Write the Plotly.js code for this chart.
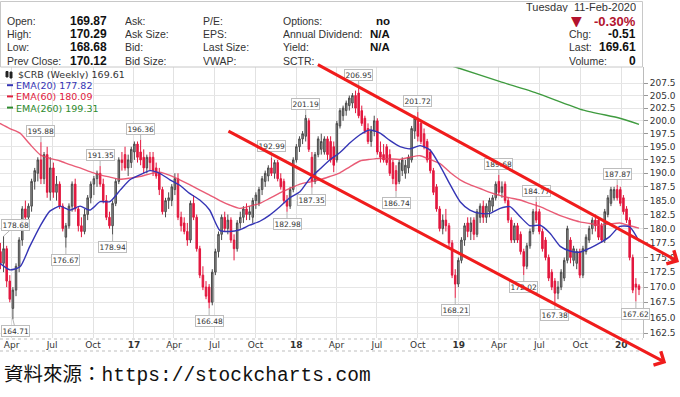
<!DOCTYPE html>
<html><head><meta charset="utf-8">
<script src="https://cdn.plot.ly/plotly-3.0.1.min.js"></script>
<style>html,body{margin:0;padding:0;background:#fff;}#chart{width:680px;height:397px;}</style>
</head><body><div id="chart"></div>
<script>
// ---------- data ----------
const firstWeek = '2016-03-07';
const opens = [
176,174,176.5,171,166.5,169.5,173.5,178,183.5,182,
184,188.5,190,192.5,189,193.5,186.5,191,186.5,188,
184,178.5,180.5,184,188,183.5,180.5,179.5,182.5,185.5,
188,189,190,188,185,182,180.5,184.5,188.5,192.5,
193.5,191,192,194,195.5,194,193,191,193,193,
191,190,187,183,185,185,187,189,182,181,
179.5,178,184.5,182,176.5,172,170,170,167.5,172.5,
176,179,182,180,181.5,178,176.5,181,182,183.5,
182.5,182,185,184.5,187,188.5,189.5,191,190,192,
189,188.5,185,184,187,192.5,195,196.5,197,200,
193,188.5,193.5,194.5,194,196.5,196,195,192.5,199,
201,202,203,203.5,205,205.5,202,200.5,198.5,196,
198,200,194,193.5,195,193.5,192,190.5,188.5,190.5,
190,191,192.5,198,200.5,199.5,197.5,196,194,190.5,
187.5,183.5,180,181.5,180.5,177.5,172,170.5,174.5,178,
181,179.5,181.5,179,182,184,182,183,184,185.5,
188.5,186.5,188,185,181.5,178,180.5,179,176,173.5,
177,179.5,183,183,179.5,178,175,172.5,171,169,
170,171.5,174.5,178,174.5,174,176,172,176,178,
180,181.5,181.5,180.5,178,182.5,184.5,185.5,187,187,
185.5,183.5,181.5,175,170.5,170.2];
const highs = [
177.5,178.68,177,172,170,174,178.5,184,185,184.5,
189,191,193,195.88,194,195,193,192,189.5,188.5,
184.5,181,184.5,188.5,189,184,182,183.5,186,188.5,
189.5,190.5,191.35,189,186,183,185,189,193,194,
195,193.5,195,196,196,196.36,194.5,193.5,194,194,
192,191,187.5,185.5,186.5,188,190,190,183,182,
181,185,186,182.5,177,173.5,171,170.5,173,176.5,
179.5,182.5,183,182.5,182,179,181.5,183,184,184.5,
184,185.5,186.5,187.5,189.5,190.5,191.5,192.99,192.5,192.5,
190,189,186,187.5,193,195.5,197,198,201.19,200.5,
194,194,197,197.5,197,197,197,196,200,202.5,
203,204,205,205.5,206,206.95,203,201,199.5,199,
201,200.5,196,195.5,195.5,194.5,192.5,191.5,192.5,193,
192.5,193.5,199,201,201.72,200,198.5,196.5,194.5,191,
188,184,182.5,183.5,181,178,173,175,178.5,181,
182,182,182,183.5,184.5,185,184.5,185.5,186,188.5,
189.68,188.5,188.5,185.5,182,181,181,179.5,176.5,177.5,
180,183.5,184.77,183.5,180,178.5,175.5,173,171.5,171,
173,175,180.5,178.5,177,176.5,176.5,177,179,180.5,
182,182.5,182,181,183.5,186,187.5,187.5,187.87,187.5,
186,184,182,175.5,171.5,170.5];
const lows = [
173,172.5,170,167.5,164.71,168.5,172.5,177,181,180.5,
183,187,188.5,188,188,185.5,185,185.5,185,183.5,
179.5,176.67,180,183,183,179.5,178.5,179,181.5,184.5,
186,187.5,187.5,184.5,181.5,180,178.94,184,188,190.5,
190.5,189.5,191,192.5,192,191.5,190,190,190.5,189.5,
189,186,182.5,182,183.5,184,186,181.5,179.5,179,
177,177.5,181.5,176,171.5,169.5,168,166.48,167,172,
175,178,179.5,179,177.5,174.5,176,180,181,181.5,
181.5,181,183.5,184,186,187.5,188.5,189.5,189,188.5,
187,184.5,182.98,183.5,186.5,192,194,195.5,196,194,
187.35,188,193,193.5,193.5,192.5,192,190.2,192,198.5,
200,201,202,202.5,201.5,200.5,199,197.5,195.5,195,
197,193.5,192,192,191.5,189.5,188,186.74,188,189.5,
189,190,192,196.5,196,195.5,194.5,192,190,186,
183,179.5,179,179.5,176.5,171.5,168.21,170,174,177,
178.5,178,178,178.5,181,181,181,182,183,185,
186,185.5,184.5,181,177.5,177.5,177.5,175.5,172.02,173,
176.5,179,181,179,176,174.5,171,169.5,167.38,168,
169.5,171,174,174,173.5,173,171.5,171.5,175.5,177.5,
179,179.5,178,177.5,177.5,182,184,185,185,184,
182.5,181,174.5,169,167.62,168.68];
const closes = [
174,176.5,171,168,169.5,173.5,178,183.5,182,184,
188.5,190.5,192.5,189,193.5,186.5,191,186.5,188,184,
180,180.5,184,188,183.5,180.5,179.5,182.5,185.5,188,
189,190,188,185,182,180.5,184.5,188.5,192.5,192,
191,192.5,194.5,195.5,193,192.5,191,193,192,190.5,
189.5,187,183,185,185.5,187.5,189,182,180.5,179.5,
178,184.5,182,176.5,172,170,168.5,167.5,172.5,176,
179,182,180,181.5,178,176.5,181,182,183.5,182.5,
183,185,186,187,189,190,191,190,192,189,
187.5,185,184,187,192.5,195,196.5,197.5,200.5,194.5,
188.5,193.5,196.5,196,196.5,193.5,192.5,191.5,199.5,202,
202.5,203.5,204.5,205,202.5,201,199.5,198,196,198,
200,194,193,192.5,192,190,189,188,192,192.5,
191.5,193,198.5,200.5,197,196,195,192.5,190.5,186.5,
183.5,180,181.5,180.5,177.5,172,170.5,174.5,178,180.5,
179.5,181,179,183,184,182,184,185,185.5,188,
186.5,187.5,185,181.5,178,180.5,178,176,173.5,177,
179.5,183,181.5,179.5,176.5,175,171.5,170,169,170,
172.5,174.5,180,175,176.5,176,172,176.5,178.5,180,
181.5,180.5,178.5,178,183,185.5,187,187,185.5,184.5,
183,181.5,175,169.5,170,169.61];

const emaDates = ['2016-03-06','2016-03-28','2016-04-20','2016-05-12','2016-06-04','2016-06-26','2016-07-19','2016-08-10','2016-09-02','2016-09-24',
'2016-10-17','2016-11-08','2016-12-01','2016-12-23','2017-01-14','2017-02-06','2017-02-28','2017-03-23','2017-04-14','2017-05-06',
'2017-05-29','2017-06-20','2017-07-13','2017-08-04','2017-08-27','2017-09-18','2017-10-11','2017-11-02','2017-11-25','2017-12-17',
'2018-01-09','2018-01-31','2018-02-23','2018-03-17','2018-04-09','2018-05-01','2018-05-24','2018-06-15','2018-07-08','2018-07-30',
'2018-08-22','2018-09-13','2018-10-06','2018-10-28','2018-11-20','2018-12-12','2019-01-04','2019-01-26','2019-02-18','2019-03-12',
'2019-04-04','2019-04-26','2019-05-19','2019-06-10','2019-07-03','2019-07-25','2019-08-17','2019-09-08','2019-09-30','2019-10-23',
'2019-11-14','2019-12-06','2019-12-29','2020-01-20','2020-02-10'];
const ema20 = [174.0,172.9,173.4,176.9,180.4,183.1,184.0,183.3,184.0,183.3,
184.8,184.8,186.9,188.8,189.7,190.5,190.0,188.8,187.8,186.3,
185.1,183.3,179.7,179.5,179.8,180.6,181.3,182.4,183.9,185.5,
186.6,189.0,190.8,192.5,193.9,195.7,197.3,198.2,197.6,196.2,
195.0,194.6,195.2,194.4,191.4,188.0,184.8,183.3,182.7,182.7,
183.6,183.9,182.1,180.5,180.6,179.2,176.9,176.1,175.9,176.6,
177.5,178.6,180.4,180.3,177.82];
const ema60 = [199.5,198.5,197.6,195.5,193.5,192.8,192.3,191.6,191.0,190.3,
189.7,189.3,188.9,189.1,189.4,189.9,190.2,189.6,188.8,187.9,
186.9,186.0,185.0,184.2,183.6,184.0,184.5,185.4,186.4,187.2,
188.0,188.4,188.8,189.4,190.1,191.2,192.3,192.6,192.8,192.7,
192.6,193.0,193.3,192.6,191.8,190.2,188.8,187.9,187.2,186.5,
185.9,185.5,185.1,184.5,183.9,183.1,182.3,181.7,181.2,180.9,
180.6,180.8,181.0,180.5,180.09];
const ema260Dates = ['2018-11-20','2018-12-31','2019-04-04','2019-06-25','2019-10-08','2019-12-29','2020-02-10'];
const ema260 = [211.7,210.6,207.8,205.5,202.1,200.5,199.31];

const calloutWeeks  = [1,4,13,21,32,36,45,67,87,92,98,100,115,127,134,146,160,168,172,178,198,204];
const calloutValues = [178.68,164.71,195.88,176.67,191.35,178.94,196.36,166.48,192.99,182.98,201.19,187.35,206.95,186.74,201.72,168.21,189.68,172.02,184.77,167.38,187.87,167.62];
const calloutSides  = ['h','l','h','l','h','l','h','l','h','l','h','l','h','l','h','l','h','l','h','l','h','l'];

const trendStarts = [['2018-02-15',211.45],['2017-07-29',198.14]];
const trendEnds   = [['2020-05-10',174.24],['2020-04-11',157.86]];

const xTickVals = ['2016-04-01','2016-07-01','2016-10-01','2017-01-01','2017-04-01','2017-07-01','2017-10-01','2018-01-01',
'2018-04-01','2018-07-01','2018-10-01','2019-01-01','2019-04-01','2019-07-01','2019-10-01','2020-01-01'];
const xTickText = ['Apr','Jul','Oct','<b>17</b>','Apr','Jul','Oct','<b>18</b>','Apr','Jul','Oct','<b>19</b>','Apr','Jul','Oct','<b>20</b>'];
const yTickVals = [162.5,165,167.5,170,172.5,175,177.5,180,182.5,185,187.5,190,192.5,195,197.5,200,202.5,205,207.5];
const yTickText = ['162.5','165.0','167.5','170.0','172.5','175.0','177.5','180.0','182.5','185.0','187.5','190.0','192.5','195.0','197.5','200.0','202.5','205.0','207.5'];

const quoteLabels1 = ['Open:','High:','Low:','Prev Close:'];
const quoteValues1 = ['169.87','170.29','168.68','170.12'];
const quoteLabels2 = ['Ask:','Ask Size:','Bid:','Bid Size:'];
const quoteLabels3 = ['P/E:','EPS:','Last Size:','VWAP:'];
const quoteLabels4 = ['Options:','Annual Dividend:','Yield:','SCTR:'];
const quoteValues4 = ['no','N/A','N/A',''];
const sideLabels = ['Chg:','Last:','Volume:'];
const sideValues = ['-0.51','169.61','0'];
const dateText = 'Tuesday  11-Feb-2020';
const pctChange = '-0.30%';
const legendNames  = ['$CRB (Weekly)','EMA(20)','EMA(60)','EMA(260)'];
const legendValues = ['169.61','177.82','180.09','199.31'];
const sourceText = '資料來源：https://stockcharts.com';

// ---------- build ----------
function weekDates(start, n){
  const p = start.split('-').map(Number);
  const t0 = Date.UTC(p[0], p[1]-1, p[2]);
  const out = [];
  for (let i = 0; i < n; i++) out.push(new Date(t0 + i*7*86400000).toISOString().slice(0,10));
  return out;
}
const weeks = weekDates(firstWeek, closes.length);

const W = 643, T = 67, B = 338;
const PX = p => p / W;
const PY = p => (B - p) / (B - T);

const C_BLUE = '#3535b5', C_RED = '#e5405e', C_GREEN = '#3f9b3f';

const traces = [
  {type:'candlestick', x:weeks, open:opens, high:highs, low:lows, close:closes,
   increasing:{line:{color:'#4a4a4a', width:1}, fillcolor:'#949494'},
   decreasing:{line:{color:'#e3173e', width:1}, fillcolor:'#e3173e'},
   whiskerwidth:0, hoverinfo:'none'},
  {type:'scatter', mode:'lines', x:emaDates, y:ema60, line:{color:C_RED, width:1.4, shape:'spline', smoothing:0.6}, opacity:0.85, hoverinfo:'none'},
  {type:'scatter', mode:'lines', x:emaDates, y:ema20, line:{color:C_BLUE, width:1.4, shape:'spline', smoothing:0.6}, hoverinfo:'none'},
  {type:'scatter', mode:'lines', x:ema260Dates, y:ema260, line:{color:C_GREEN, width:1.4, shape:'spline', smoothing:0.5}, hoverinfo:'none'}
];

const ann = [];
const HF = 'Liberation Sans, Arial, sans-serif';
function txt(t, x, y, anchor, size, color, bold, family, h){
  const a = {xref:'paper', yref:'paper', x:PX(x), y:PY(y), xanchor:anchor, yanchor:'middle',
    text: bold ? '<b>'+t+'</b>' : t, showarrow:false, borderpad:0,
    font:{family: family || HF, size:size, color:color}};
  if (h) a.height = h;
  ann.push(a);
}
const rowsY = [20.7, 34, 47.3, 60.7];
for (let r = 0; r < 4; r++){
  txt(quoteLabels1[r], 6, rowsY[r], 'left', 10.5, '#333', false, null, 12);
  txt(quoteValues1[r], 108, rowsY[r], 'right', 12, '#111', true, null, 12);
  txt(quoteLabels2[r], 124, rowsY[r], 'left', 10.5, '#333', false, null, 12);
  txt(quoteLabels3[r], 202, rowsY[r], 'left', 10.5, '#333', false, null, 12);
  txt(quoteLabels4[r], 282, rowsY[r], 'left', 10.5, '#333', false, null, 12);
  if (quoteValues4[r]) txt(quoteValues4[r], 391, rowsY[r], 'right', 11.5, '#111', true, null, 12);
}
txt(dateText, 637, 6.7, 'right', 11, '#333', false, null, 11);
txt('▼', 570, 20.7, 'left', 14, '#b3122e', false, 'DejaVu Sans', 12);
txt(pctChange, 637, 20.7, 'right', 13, '#b3122e', true, null, 12);
for (let r = 0; r < 3; r++){
  txt(sideLabels[r], 568, rowsY[r+1], 'left', 10.5, '#333', false, null, 12);
  txt(sideValues[r], 637, rowsY[r+1], 'right', 12, '#111', true, null, 12);
}
// legend
const legColors = ['#333', C_BLUE, '#e0203c', '#2e8b2e'];
const legY = [74, 85.2, 96.4, 107.6];
for (let r = 0; r < 4; r++){
  txt(legendNames[r] + ' ' + legendValues[r], r === 0 ? 17 : 15, legY[r], 'left', 9.5, legColors[r], false, 'DejaVu Sans', 10);
}
// callouts (labels near the left edge nudged right so they stay on the page)
const edgeNudge = {0: 12, 1: 3};
for (let k = 0; k < calloutWeeks.length; k++){
  const hi = calloutSides[k] === 'h';
  ann.push({xref:'x', yref:'y', x:weeks[calloutWeeks[k]], y:Math.log10(calloutValues[k]),
    text: calloutValues[k].toFixed(2), showarrow:true, arrowhead:0, arrowwidth:1, arrowcolor:'#b5b5b5',
    ax: edgeNudge[k] || 0, ay: hi ? -11 : 12, standoff:0, bgcolor:'rgba(255,255,255,0.9)', bordercolor:'#bdbdbd', borderwidth:1, borderpad:0.5,
    font:{family:'DejaVu Sans', size:7.5, color:'#333'}});
}
// trend channel arrows
for (let k = 0; k < trendStarts.length; k++){
  ann.push({xref:'x', yref:'y', axref:'x', ayref:'y',
    x:trendEnds[k][0], y:Math.log10(trendEnds[k][1]),
    ax:trendStarts[k][0], ay:Math.log10(trendStarts[k][1]),
    text:'', showarrow:true, arrowhead:4, arrowsize:1, arrowwidth:3, arrowcolor:'#f01c1c', standoff:0});
}
// source line
ann.push({xref:'paper', yref:'paper', x:PX(2), y:PY(375), xanchor:'left', yanchor:'middle', showarrow:false,
  text: sourceText, font:{family:"'Liberation Mono', 'Noto Sans CJK TC', monospace", size:19.5, color:'#111'}});

const shapes = [
  {type:'rect', xref:'paper', yref:'paper', x0:PX(0.5), x1:PX(642.5), y0:PY(67), y1:PY(1.5), line:{color:'#c8c8c8', width:1}, fillcolor:'rgba(0,0,0,0)'},
  {type:'line', xref:'paper', yref:'paper', x0:0, x1:1, y0:PY(339), y1:PY(339), line:{color:'#bdbdbd', width:1, dash:'dot'}},
  {type:'line', xref:'paper', yref:'paper', x0:0, x1:1, y0:PY(351), y1:PY(351), line:{color:'#bdbdbd', width:1, dash:'dot'}},
  // legend markers
  {type:'rect', xref:'paper', yref:'paper', x0:PX(6), x1:PX(8), y0:PY(77), y1:PY(71.5), line:{color:'#222', width:1}, fillcolor:'#222'},
  {type:'rect', xref:'paper', yref:'paper', x0:PX(10), x1:PX(12), y0:PY(78), y1:PY(72), line:{color:'#222', width:1}, fillcolor:'#222'},
  {type:'line', xref:'paper', yref:'paper', x0:PX(7), x1:PX(13), y0:PY(85.2), y1:PY(85.2), line:{color:C_BLUE, width:2}},
  {type:'line', xref:'paper', yref:'paper', x0:PX(7), x1:PX(13), y0:PY(96.4), y1:PY(96.4), line:{color:'#e0203c', width:2}},
  {type:'line', xref:'paper', yref:'paper', x0:PX(7), x1:PX(13), y0:PY(107.6), y1:PY(107.6), line:{color:'#2e8b2e', width:2}}
];

const layout = {
  width:680, height:397, margin:{l:0, r:680-W, t:T, b:397-B, pad:0},
  paper_bgcolor:'#fff', plot_bgcolor:'#fff', showlegend:false, hovermode:false,
  xaxis:{type:'date', range:['2016-03-06','2020-02-19'], tickvals:xTickVals, ticktext:xTickText,
    showgrid:true, gridcolor:'#e2e2e2', gridwidth:1, ticks:'', zeroline:false, showline:false,
    tickfont:{family:'DejaVu Sans', size:9, color:'#333'}, rangeslider:{visible:false}, fixedrange:true},
  yaxis:{type:'log', side:'right', range:[Math.log10(161.75), Math.log10(210.8)], tickvals:yTickVals, ticktext:yTickText,
    showgrid:true, gridcolor:'#e6e6e6', gridwidth:1, ticks:'outside', ticklen:4, tickcolor:'#999',
    showline:true, linecolor:'#bbb', zeroline:false,
    tickfont:{family:'DejaVu Sans', size:9, color:'#333'}, fixedrange:true},
  annotations:ann, shapes:shapes
};
Plotly.newPlot('chart', traces, layout, {staticPlot:true, displayModeBar:false});
</script></body></html>
